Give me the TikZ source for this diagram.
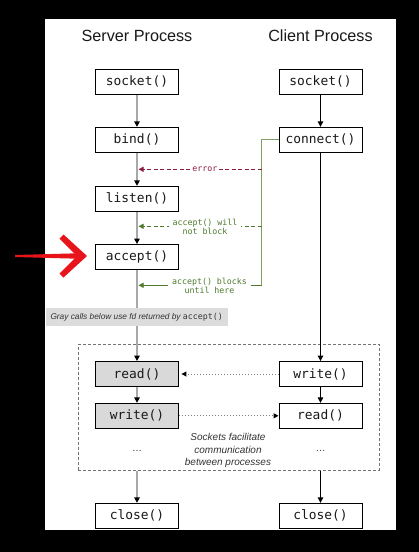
\documentclass[tikz,border=0pt]{standalone}
\usepackage{fontspec}
\setmainfont{Liberation Sans}
\newfontfamily\monof{DejaVu Sans Mono}
\usetikzlibrary{arrows.meta}
\definecolor{srvline}{HTML}{A8A8A8}
\definecolor{errred}{HTML}{8C1C3C}
\definecolor{grn}{HTML}{4D7A2E}
\definecolor{grnl}{HTML}{7F9F63}
\definecolor{boxgray}{HTML}{D9D9D9}
\definecolor{lblgray}{HTML}{DCDCDC}
\definecolor{bigred}{HTML}{E8141C}
\tikzset{
  callbox/.style={draw=black, line width=0.9pt, minimum width=83pt, minimum height=25pt, inner sep=0pt, font=\monof\fontsize{12.9}{14}\selectfont, text=black!90},
  grayfill/.style={fill=boxgray},
  tipk/.style={-{Triangle[length=5.5pt,width=5.5pt,color=black]}},
  srvarrow/.style={draw=srvline, line width=1.4pt, tipk},
  srvplain/.style={draw=srvline, line width=1.4pt},
  cliarrow/.style={draw=black, line width=1.1pt, -{Triangle[length=5.5pt,width=5.5pt]}},
  cliplain/.style={draw=black, line width=1.1pt},
  title/.style={font=\fontsize{16.2}{18}\selectfont, text=black!90},
  smalllbl/.style={fill=white, inner sep=1pt, align=center, font=\monof\fontsize{8.3}{9.2}\selectfont},
  dotarrow/.style={draw=black!50, line width=1pt, dotted, -{Triangle[length=5pt,width=5pt,color=black]}},
}
\begin{document}
\begin{tikzpicture}[x=1pt,y=-1pt]
\useasboundingbox (0,0) rectangle (419,552);
\fill[black] (0,0) rectangle (419,552);
\fill[white] (45,19) rectangle (396,529.5);

% titles
\node[title] (tserver) at (137,35.7) {Server Process};
\node[title] (tclient) at (320.5,35.7) {Client Process};

% dashed communication box
\node[draw=black!55, dashed, dash pattern=on 3pt off 2pt, line width=0.9pt, minimum width=301pt, minimum height=125.7pt, inner sep=0pt] (comm) at (228.8,407.2) {};

% server boxes
\node[callbox] (ssocket) at (137,81.8) {socket()};
\node[callbox] (sbind) at (137,139.8) {bind()};
\node[callbox] (slisten) at (137,198.8) {listen()};
\node[callbox] (saccept) at (137,257) {accept()};
\node[callbox, grayfill] (sread) at (137,374) {read()};
\node[callbox, grayfill] (swrite) at (137,415.8) {write()};
\node[callbox] (sclose) at (137,515.8) {close()};
\node[font=\fontsize{10}{12}\selectfont, text=black!80] (sdots) at (137,451) {\ldots};

% client boxes
\node[callbox] (csocket) at (320.5,81.8) {socket()};
\node[callbox] (cconnect) at (320.5,139.8) {connect()};
\node[callbox] (cwrite) at (320.5,374) {write()};
\node[callbox] (cread) at (320.5,415.8) {read()};
\node[callbox] (cclose) at (320.5,515.8) {close()};
\node[font=\fontsize{10}{12}\selectfont, text=black!80] (cdots) at (320.5,451) {\ldots};

% server flow
\draw[srvarrow] (ssocket.south) -- (sbind.north);
\draw[srvarrow] (sbind.south) -- (slisten.north);
\draw[srvarrow] (slisten.south) -- (saccept.north);
\draw[srvarrow] (saccept.south) -- (sread.north);
\draw[srvarrow] (sread.south) -- (swrite.north);
\draw[srvarrow] (comm.south -| sclose) -- (sclose.north);

% client flow
\draw[cliarrow] (csocket.south) -- (cconnect.north);
\draw[cliarrow] (cconnect.south) -- (cwrite.north);
\draw[cliarrow] (cwrite.south) -- (cread.north);
\draw[cliarrow] (comm.south -| cclose) -- (cclose.north);

% data exchange
\draw[dotarrow, shorten >=2.5pt] (cwrite.west) -- (sread.east);
\draw[dotarrow] (swrite.east) -- (cread.west);

% connect feedback lines
\coordinate (gtop) at (261.7,139.8);
\coordinate (gerr) at (261.7,169.3);
\coordinate (gwill) at (261.7,226.3);
\coordinate (gblk) at (261.7,285.3);
\coordinate (serr) at (138.5,169.3);
\coordinate (swill) at (138.5,226.3);
\coordinate (sblk) at (138.5,285.3);
\draw[grnl, line width=0.9pt] (cconnect.west) -- (gtop) -- (gblk);
\draw[errred, line width=0.9pt, dash pattern=on 4pt off 2.5pt, -{Triangle[length=5pt,width=5pt]}] (gerr) -- (serr);
\draw[grn, line width=0.9pt, dash pattern=on 4pt off 2.5pt, -{Triangle[length=5pt,width=5pt]}] (gwill) -- (swill);
\draw[grn, line width=0.9pt, -{Triangle[length=5pt,width=5pt]}] (gblk) -- (sblk);
\node[smalllbl, text=errred] (lerr) at (204.8,169.3) {error};
\node[smalllbl, text=grn, inner xsep=4pt] (lwill) at (205,226.5) {accept() will\\not block};
\node[smalllbl, text=grn, inner xsep=4pt] (lblk) at (209.5,285.5) {accept() blocks\\until here};

% gray note
\node[fill=lblgray, minimum width=182pt, minimum height=17.7pt, inner sep=0pt, font=\itshape\fontsize{8.3}{10}\selectfont, text=black!80] (note) at (136.7,316.9) {Gray calls below use fd returned by {\upshape\monof accept()}};

% sockets text
\node[align=center, font=\itshape\fontsize{10}{12.2}\selectfont, text=black!80] (socktxt) at (228,450.5) {Sockets facilitate\\communication\\between processes};

% big red arrow
\fill[bigred] (15,255) -- (77,253.3) -- (77,258.7) -- (15,257) -- cycle;
\fill[bigred] (87,256) -- (63.5,234.5) -- (59.5,238.5) -- (77,256) -- (59.5,273.5) -- (63.5,277.5) -- cycle;
\end{tikzpicture}
\end{document}
